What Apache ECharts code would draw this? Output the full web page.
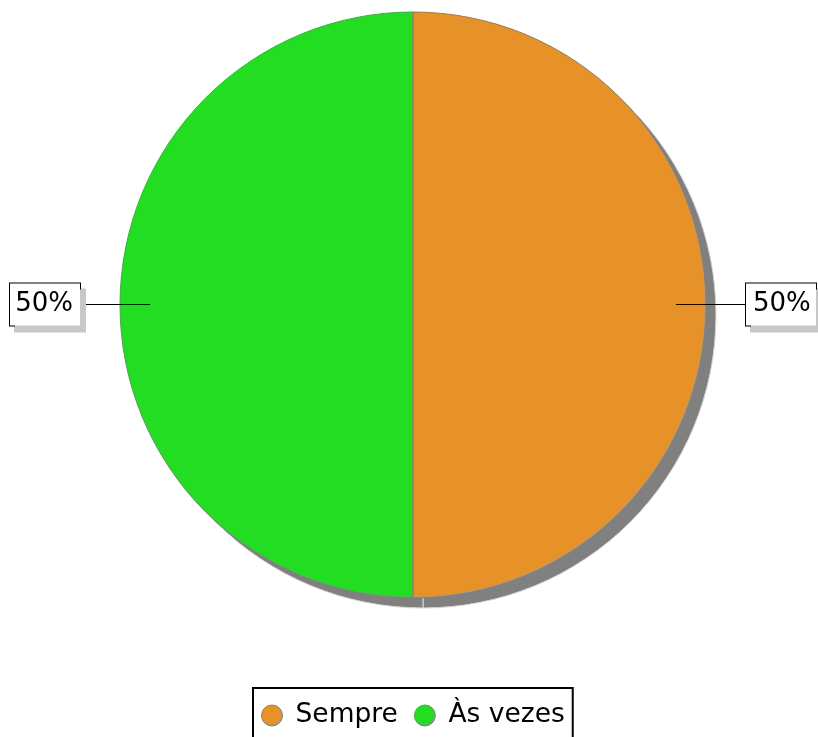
<!DOCTYPE html>
<html>
<head>
<meta charset="utf-8">
<script src="https://cdn.jsdelivr.net/npm/echarts@6/dist/echarts.min.js"></script>
<style>html,body{margin:0;padding:0;background:#fff}#c{width:818px;height:737px}</style>
</head>
<body>
<div id="c"></div>
<script>
var categories = ['Sempre', 'Às vezes'];
var values = [50, 50];
var colors = ['#e69229', '#22dd22'];

var chart = echarts.init(document.getElementById('c'), null, {renderer: 'canvas'});
var font = '"DejaVu Sans", sans-serif';

function mkData(colorFn) {
  return categories.map(function (n, i) {
    return {name: n, value: values[i], itemStyle: colorFn(i)};
  });
}

var option = {
  backgroundColor: '#ffffff',
  animation: false,
  legend: {
    bottom: -20,
    left: 253,
    orient: 'horizontal',
    borderColor: '#000',
    borderWidth: 2,
    padding: [14, 8, 28, 8],
    itemGap: 16,
    itemWidth: 21,
    itemHeight: 21,
    icon: 'circle',
    textStyle: {fontFamily: font, fontSize: 26.5, color: '#000', padding: [0, 0, 0, 8]},
    data: categories.map(function (n, i) {
      return {name: n, itemStyle: {color: colors[i], borderColor: '#808080', borderWidth: 1}};
    })
  },
  series: [
    {
      type: 'pie',
      name: 'main',
      z: 3,
      center: [413, 305],
      radius: [0, 293],
      startAngle: 90,
      clockwise: true,
      silent: true,
      label: {show: false},
      labelLine: {show: false},
      itemStyle: {borderColor: '#808080', borderWidth: 1},
      data: mkData(function (i) { return {color: colors[i]}; })
    },
    {
      type: 'pie',
      name: 'shadow',
      z: 1,
      center: [423, 315],
      radius: [0, 293],
      startAngle: 90,
      clockwise: true,
      silent: true,
      legendHoverLink: false,
      label: {show: false},
      labelLine: {show: false},
      data: mkData(function () { return {color: '#808080', borderColor: '#d8d8d8', borderWidth: 1}; })
    },
    {
      type: 'pie',
      name: 'labels',
      z: 4,
      center: [413, 304.5],
      radius: [0, 263],
      startAngle: 90,
      clockwise: true,
      silent: true,
      legendHoverLink: false,
      itemStyle: {color: 'rgba(0,0,0,0)'},
      label: {
        show: true,
        position: 'outside',
        formatter: '{d}%',
        overflow: 'none',
        bleedMargin: 0,
        width: 56,
        fontFamily: font,
        fontSize: 26,
        lineHeight: 30,
        color: '#000',
        backgroundColor: '#fff',
        borderColor: '#000',
        borderWidth: 1,
        padding: [6, 7, 6, 7],
        shadowColor: '#c8c8c8',
        shadowBlur: 0,
        shadowOffsetX: 5,
        shadowOffsetY: 6,
        distanceToLabelLine: 0
      },
      labelLine: {
        show: true,
        length: 35,
        length2: 35,
        lineStyle: {color: '#000', width: 1}
      },
      data: mkData(function () { return {color: 'rgba(0,0,0,0)'}; })
    }
  ]
};
chart.setOption(option);
</script>
</body>
</html>
